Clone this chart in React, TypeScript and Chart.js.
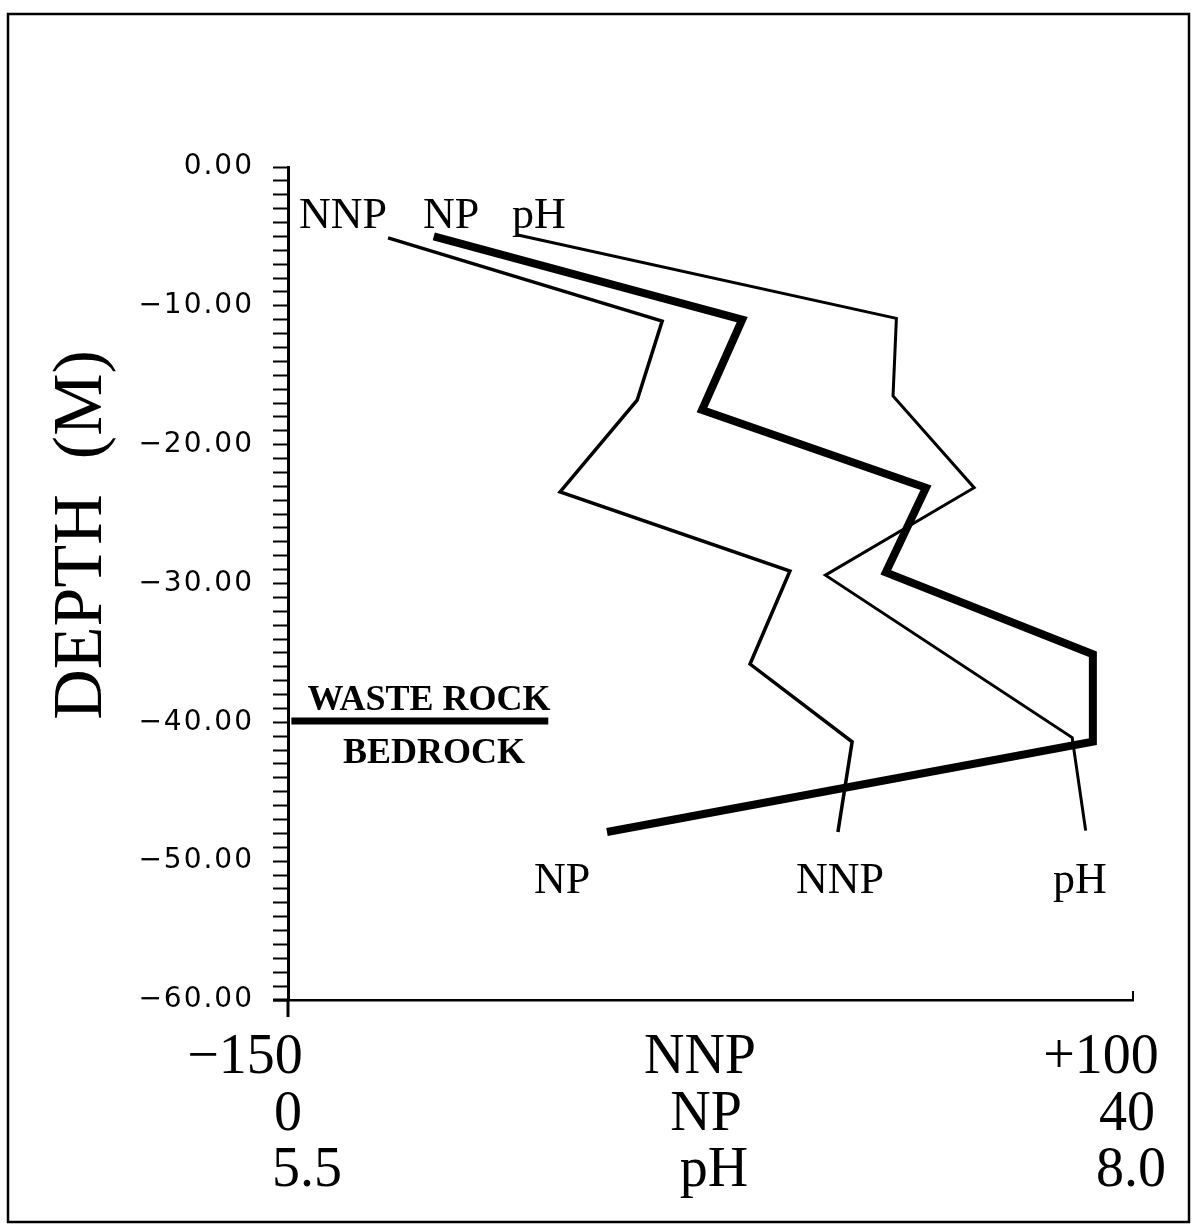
import React, { useEffect, useRef } from "react";
import { Chart, registerables } from "chart.js";

Chart.register(...registerables);

// ---- data ----
const depthTickValues = [0, -10, -20, -30, -40, -50, -60];
const nnpDepth = [-5.1, -11.1, -16.8, -23.4, -29.1, -35.8, -41.4, -47.9];
const nnpValues = [-120.4, -39.3, -46.7, -69.5, -1.5, -13.3, 16.9, 12.7];
const npDepth = [-5.0, -11.0, -17.5, -23.1, -29.2, -35.1, -41.4, -47.9];
const npValues = [6.9, 21.5, 19.6, 30.2, 28.3, 38.1, 38.1, 15.1];
const phDepth = [-4.9, -10.9, -16.5, -23.1, -29.4, -41.1, -47.8];
const phValues = [6.18, 7.3, 7.29, 7.53, 7.09, 7.82, 7.86];
const nnpRange = [-150, 100];
const npRange = [0, 40];
const phRange = [5.5, 8.0];
const bedrockDepth = -39.9;
const bedrockNNP = [-149, -73];
const axisRowLabels = [
  ["\u2212150", "NNP", "+100"],
  ["0", "NP", "40"],
  ["5.5", "pH", "8.0"],
];
const topLabels = ["NNP", "NP", "pH"];
const endLabels = ["NP", "NNP", "pH"];
const boundaryLabels = ["WASTE ROCK", "BEDROCK"];
const yTitle = "DEPTH  (M)";

const zip = (xs: number[], ys: number[]) => xs.map((x, i) => ({ x, y: ys[i] }));

const annotations = {
  id: "annotations",
  beforeDraw(chart: any) {
    const { ctx, width, height } = chart;
    ctx.save();
    ctx.letterSpacing = "0px";
    ctx.fillStyle = "#fff";
    ctx.fillRect(0, 0, width, height);
    ctx.strokeStyle = "#000";
    ctx.lineWidth = 2.5;
    ctx.strokeRect(8, 14, 1181, 1208);
    ctx.restore();
    ctx.letterSpacing = "2px";
  },
  afterDraw(chart: any) {
    const { ctx, chartArea: ca } = chart;
    ctx.save();
    ctx.letterSpacing = "0px";
    ctx.fillStyle = "#000";
    ctx.strokeStyle = "#000";

    // axis extensions
    ctx.lineWidth = 3;
    ctx.beginPath();
    ctx.moveTo(ca.left, ca.bottom);
    ctx.lineTo(ca.left, ca.bottom + 17);
    ctx.moveTo(ca.left - 15, ca.bottom);
    ctx.lineTo(ca.left, ca.bottom);
    ctx.stroke();
    ctx.lineWidth = 2;
    ctx.beginPath();
    ctx.moveTo(ca.right, ca.bottom);
    ctx.lineTo(ca.right, ca.bottom - 9);
    ctx.stroke();

    // y title
    ctx.save();
    ctx.font = '70px "Liberation Serif"';
    ctx.translate(101, 535);
    ctx.rotate(-Math.PI / 2);
    ctx.textAlign = "center";
    ctx.textBaseline = "alphabetic";
    ctx.fillText(yTitle, 0, 0);
    ctx.restore();

    // bottom three rows
    ctx.font = '56px "Liberation Serif"';
    ctx.textAlign = "center";
    ctx.textBaseline = "alphabetic";
    const leftOff = [-43, 0, 19];
    const midOff = [412, 418, 426];
    const rightOff = [-32, -6, -2];
    const base = [1073, 1130, 1186];
    axisRowLabels.forEach((row, i) => {
      ctx.fillText(row[0], ca.left + leftOff[i], base[i]);
      ctx.fillText(row[1], ca.left + midOff[i], base[i]);
      ctx.fillText(row[2], ca.right + rightOff[i], base[i]);
    });

    // series labels
    ctx.font = '44px "Liberation Serif"';
    ctx.textAlign = "left";
    const topX = [299, 423, 512];
    topLabels.forEach((t, i) => ctx.fillText(t, topX[i], 228));
    ctx.textAlign = "center";
    const endX = [562, 840, 1080];
    endLabels.forEach((t, i) => ctx.fillText(t, endX[i], 893));

    // boundary labels
    const yS = chart.scales.y;
    const yb = yS.getPixelForValue(bedrockDepth);
    ctx.font = 'bold 36px "Liberation Serif"';
    ctx.fillText(boundaryLabels[0], 429, yb - 11);
    ctx.fillText(boundaryLabels[1], 434, yb + 42);
    ctx.restore();
  },
};

export default function App() {
  const ref = useRef<HTMLCanvasElement | null>(null);
  useEffect(() => {
    if (!ref.current) return;
    const common = {
      type: "linear" as const,
      display: false,
    };
    const chart = new Chart(ref.current, {
      type: "scatter",
      data: {
        datasets: [
          {
            label: "NNP",
            data: zip(nnpValues, nnpDepth),
            xAxisID: "xNNP",
            showLine: true,
            borderColor: "#000",
            borderWidth: 3.5,
            pointRadius: 0,
            borderJoinStyle: "miter",
          },
          {
            label: "NP",
            data: zip(npValues, npDepth),
            xAxisID: "xNP",
            showLine: true,
            borderColor: "#000",
            borderWidth: 8,
            pointRadius: 0,
            borderJoinStyle: "miter",
          },
          {
            label: "pH",
            data: zip(phValues, phDepth),
            xAxisID: "xPH",
            showLine: true,
            borderColor: "#000",
            borderWidth: 3,
            pointRadius: 0,
            borderJoinStyle: "miter",
          },
          {
            label: "boundary",
            data: zip(bedrockNNP, [bedrockDepth, bedrockDepth]),
            xAxisID: "xNNP",
            showLine: true,
            borderColor: "#000",
            borderWidth: 7,
            pointRadius: 0,
          },
        ],
      },
      options: {
        animation: false,
        responsive: false,
        layout: { padding: { left: 108, right: 59, top: 167, bottom: 226 } },
        plugins: { legend: { display: false }, tooltip: { enabled: false } },
        scales: {
          xNNP: {
            type: "linear",
            position: "bottom",
            min: nnpRange[0],
            max: nnpRange[1],
            ticks: { display: false },
            grid: { display: false },
            border: { display: true, color: "#000", width: 2.5 },
            afterFit: (s: any) => {
              s.height = 0;
            },
          },
          xNP: { ...common, min: npRange[0], max: npRange[1] },
          xPH: { ...common, min: phRange[0], max: phRange[1] },
          y: {
            type: "linear",
            position: "left",
            min: depthTickValues[depthTickValues.length - 1],
            max: depthTickValues[0],
            afterFit: (s: any) => {
              s.width = 180;
            },
            border: { display: true, color: "#000", width: 3 },
            grid: {
              drawOnChartArea: false,
              drawTicks: true,
              tickLength: 15,
              tickColor: "#000",
              tickWidth: 2,
            },
            ticks: {
              stepSize: 1,
              autoSkip: false,
              maxTicksLimit: 100,
              padding: 19,
              color: "#000",
              font: { family: '"DejaVu Sans"', size: 28 },
              callback: (v: any) => {
                const n = Number(v);
                if (!depthTickValues.includes(n)) return "";
                return n === 0 ? "0.00" : "\u2212" + Math.abs(n).toFixed(2);
              },
            },
          },
        },
      },
      plugins: [annotations],
    } as any);
    return () => chart.destroy();
  }, []);
  return (
    <div style={{ position: "fixed", left: 0, top: 0, width: 1192, height: 1226, background: "#fff" }}>
      <canvas ref={ref} width={1192} height={1226} style={{ display: "block" }} />
    </div>
  );
}
